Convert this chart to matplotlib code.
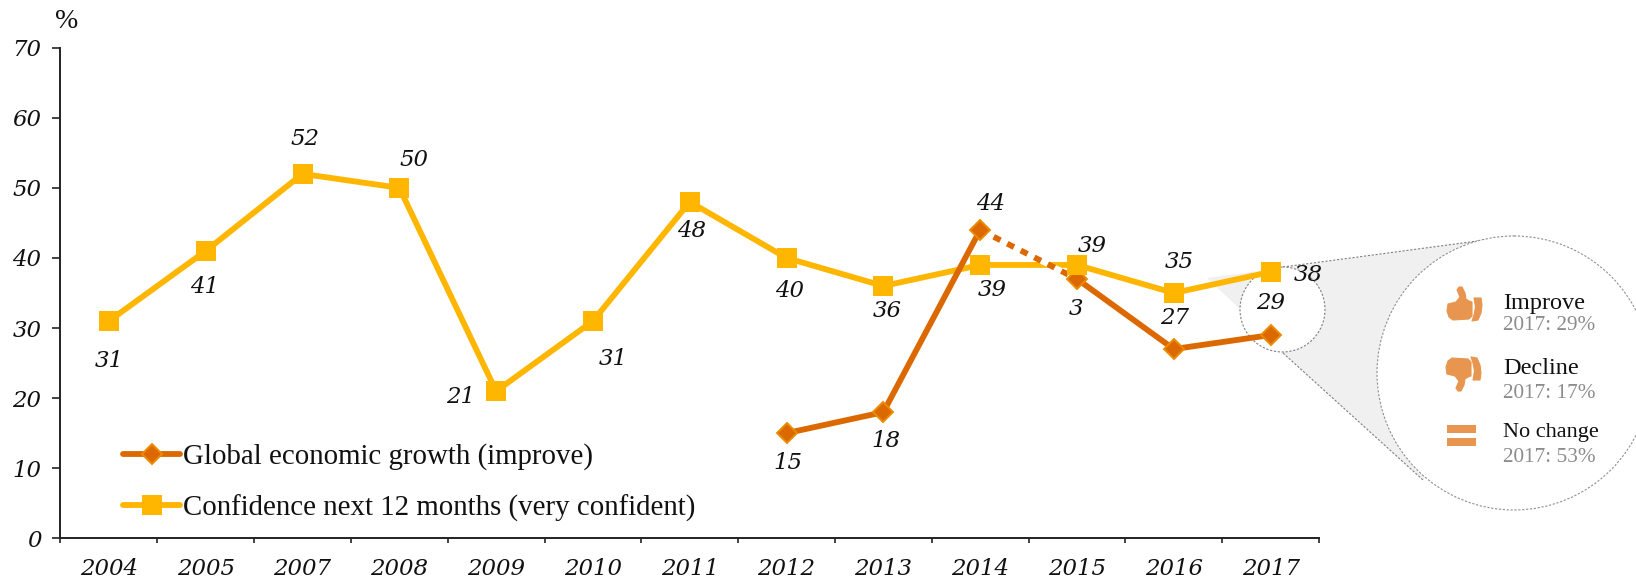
import numpy as np
import matplotlib
matplotlib.use('Agg')
import matplotlib.pyplot as plt
from matplotlib.lines import Line2D
from matplotlib.patches import Circle, Polygon, Rectangle

# Survey results, %
years = ['2004', '2005', '2007', '2008', '2009', '2010', '2011', '2012', '2013', '2014', '2015', '2016', '2017']
confidence = [31, 41, 52, 50, 21, 31, 48, 40, 36, 39, 39, 35, 38]
growth_years = ['2012', '2013', '2014', '2015', '2016', '2017']
growth = [15, 18, 44, 37, 27, 29]
growth_labels = ['15', '18', '44', '3', '27', '29']
yticks = [0, 10, 20, 30, 40, 50, 60, 70]
breakdown = ['Improve', 'Decline', 'No change']
breakdown_2017 = [29, 17, 53]

# label offsets from the marker, in pixels (x right, y up)
conf_offsets = [(0, -40), (-1, -36), (2, 35), (15, 28), (-36, -6), (20, -38), (2, -29),
                (3, -33), (4, -25), (12, -25), (15, 19), (5, 31), (38, -3)]
growth_offsets = [(1, -30), (3, -29), (10, 26), (-1, -30), (1, 31), (0, 32)]

YELLOW = '#FFB600'
DARK = '#DC6900'
EDGE = '#EB8C00'
ICON = '#E8964F'
W, H = 1636, 582
NUM_FONT = dict(family='DejaVu Serif', style='italic', color='#111111')
TEXT_FONT = 'Liberation Serif'
LW = 4.2

fig = plt.figure(figsize=(W / 100, H / 100), dpi=100)

# background layer in pixel coordinates for the call-out
bg = fig.add_axes([0, 0, 1, 1], zorder=0)
bg.set_xlim(0, W)
bg.set_ylim(H, 0)
bg.axis('off')

ax = fig.add_axes([60.5 / W, 1 - 538.3 / H, (1319 - 60.5) / W, (538.3 - 47.7) / H], zorder=1)
ax.patch.set_visible(False)


def draw_thumb(x0, y0, down=False):
    hand = np.array([(1, 17), (9, 15), (13, 10), (10, 3), (12, 0), (15, 0), (18, 6), (19, 12), (22, 14),
                     (25, 15), (25, 29), (22, 32), (6, 33), (2, 30), (0, 24)], dtype=float)
    cuff = np.array([(27, 11), (34, 11), (35, 18), (34, 26), (31, 33), (25, 34), (27, 28), (28.5, 20)], dtype=float)
    for shape in (hand, cuff):
        pts = shape.copy()
        if down:
            pts[:, 1] = 34 - pts[:, 1]
        pts += (x0, y0)
        bg.add_patch(Polygon(pts, closed=True, fc=ICON, ec=ICON, lw=0.8, joinstyle='round', zorder=5))


# grey call-out wedge between the two circles
bg.add_patch(Polygon([(1207, 278), (1515, 236), (1514, 373), (1423, 480), (1283, 353), (1240, 309)],
                     closed=True, fc='#F0F0F0', ec='none', zorder=1))
dash = dict(color='#808080', lw=0.8, ls=(0, (2, 1.5)), zorder=2)
bg.plot([1283, 1515], [267, 236], **dash)
bg.plot([1283, 1423], [353, 480], **dash)
bg.add_patch(Circle((1282.5, 309.5), 42.5, fc='white', ec='#808080', lw=0.8, ls=(0, (2, 1.5)), zorder=3))
bg.add_patch(Circle((1514, 373), 137, fc='white', ec='#909090', lw=0.8, ls=(0, (2, 1.5)), zorder=3))

draw_thumb(1447, 287)
draw_thumb(1446, 357, down=True)
bg.add_patch(Rectangle((1447, 425), 28.5, 7.5, fc=ICON, ec='none', zorder=5))
bg.add_patch(Rectangle((1447, 438), 28.5, 7.5, fc=ICON, ec='none', zorder=5))

name_y = [303, 369, 432]
value_y = [325, 394, 458]
name_size = [17.5, 17.5, 16]
for name, val, ny, vy, size in zip(breakdown, breakdown_2017, name_y, value_y, name_size):
    bg.text(1503, ny, name, family=TEXT_FONT, fontsize=size, color='#111111', va='center', zorder=6)
    bg.text(1503, vy, f'2017: {val}%', family=TEXT_FONT, fontsize=15.3, color='#8C8C8C', va='center', zorder=6)

bg.text(67, 22, '%', family=TEXT_FONT, fontsize=20, color='#111111', ha='center', va='center')

x = np.arange(len(years))
gx = np.array([years.index(y) for y in growth_years])
growth = np.array(growth)
conf_marker = dict(marker='s', ms=15, mfc=YELLOW, mec=YELLOW, mew=0)
growth_marker = dict(marker='D', ms=10, mfc=DARK, mec=EDGE, mew=1.4)

ax.plot(x, confidence, color=YELLOW, lw=LW, solid_capstyle='round', zorder=2)
ax.plot(gx[:3], growth[:3], color=DARK, lw=LW, zorder=3)
ax.plot(gx[3:], growth[3:], color=DARK, lw=LW, zorder=3)
# 2014 to 2015 is not comparable, so that stretch is dashed
ax.plot(gx[2:4], growth[2:4], color=DARK, gapcolor='white', lw=LW, ls=(0, (1.3, 1.3)), zorder=3)
ax.plot(gx, growth, ls='none', zorder=4, **growth_marker)
ax.plot(x, confidence, ls='none', zorder=5, **conf_marker)

for xi, v, off in zip(x, confidence, conf_offsets):
    ax.annotate(str(v), (xi, v), xytext=off, textcoords='offset pixels', ha='center', va='center',
                fontsize=16.5, zorder=7, **NUM_FONT)
for xi, v, lab, off in zip(gx, growth, growth_labels, growth_offsets):
    ax.annotate(lab, (xi, v), xytext=off, textcoords='offset pixels', ha='center', va='center',
                fontsize=16.5, zorder=7, **NUM_FONT)

ax.set_xlim(-0.5, len(years) - 0.5)
ax.set_ylim(0, 70)
ax.set_xticks(np.arange(len(years) + 1) - 0.5)
ax.set_xticklabels([])
ax.set_xticks(x, labels=years, minor=True)
ax.set_yticks(yticks)
ax.tick_params(axis='x', which='major', length=3.8, width=1.2, color='#222222')
ax.tick_params(axis='x', which='minor', length=0, pad=14)
ax.tick_params(axis='y', length=5.8, width=1.2, color='#222222', pad=8)
for lab in ax.get_xticklabels(minor=True) + ax.get_yticklabels():
    lab.set_fontsize(16.5)
    lab.set_fontfamily('DejaVu Serif')
    lab.set_fontstyle('italic')
    lab.set_color('#111111')
for side in ('top', 'right'):
    ax.spines[side].set_visible(False)
for side in ('left', 'bottom'):
    ax.spines[side].set_linewidth(1.4)
    ax.spines[side].set_color('#222222')

handles = [Line2D([], [], color=DARK, lw=LW, solid_capstyle='round', **growth_marker),
           Line2D([], [], color=YELLOW, lw=LW, solid_capstyle='round', **conf_marker)]
ax.legend(handles, ['Global economic growth (improve)', 'Confidence next 12 months (very confident)'],
          loc='lower left', bbox_to_anchor=(0.05, 0.0335), frameon=False, borderaxespad=0, borderpad=0,
          prop=dict(family=TEXT_FONT, size=20.8), labelcolor='#111111', handlelength=1.95,
          handletextpad=0.1, labelspacing=0.85)

fig.savefig('out.png', dpi=100)
